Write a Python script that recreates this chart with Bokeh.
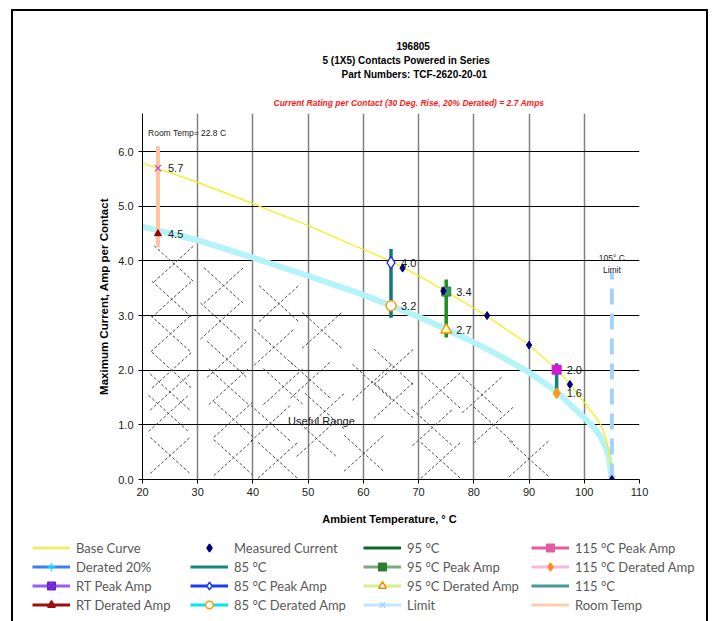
from bokeh.plotting import figure
from bokeh.layouts import column
from bokeh.models import (ColumnDataSource, Label, LabelSet, Legend, LegendItem,
                          Range1d, FixedTicker, NumeralTickFormatter, Title)
from bokeh.core.properties import value
from bokeh.embed import file_html
from bokeh.resources import INLINE

# ---------------- data ----------------
base_x = [20, 30, 40, 50, 57.6, 65, 70, 74.5, 80, 82.4, 85, 90, 95, 97.4, 100, 102, 103, 104, 104.5, 105]
base_y = [5.79, 5.44, 5.05, 4.65, 4.31, 4.0, 3.73, 3.47, 3.14, 2.99, 2.81, 2.46, 2.02, 1.74, 1.41, 1.15, 1.0, 0.72, 0.5, 0.0]

derated_x = [20, 30, 40, 50, 60, 65, 70, 75, 80, 85, 90, 95, 100, 102, 103, 104, 104.5, 105]
derated_y = [4.63, 4.38, 4.06, 3.73, 3.38, 3.18, 2.98, 2.75, 2.51, 2.25, 1.96, 1.61, 1.13, 0.92, 0.78, 0.56, 0.38, 0.0]

measured_x = [67.1, 74.5, 82.4, 90.0, 97.4, 105.0]
measured_y = [3.87, 3.45, 3.0, 2.46, 1.74, 0.0]

room_temp = [22.8]
rt_bar_low = [4.25]
rt_bar_high = [6.1]
rt_peak = [5.7]
rt_derated = [4.5]
rt_peak_label = ["5.7"]
rt_derated_label = ["4.5"]

temp_x = [65, 75, 95]
temp_bar_low = [2.96, 2.60, 1.51]
temp_bar_high = [4.22, 3.66, 2.13]
temp_peak = [3.97, 3.44, 2.01]
temp_derated = [3.18, 2.74, 1.58]
temp_peak_label = ["4.0", "3.4", "2.0"]
temp_derated_label = ["3.2", "2.7", "1.6"]

limit_x = [105]
limit_low = [0.0]
limit_high = [3.8]

x_ticks = [20, 30, 40, 50, 60, 70, 80, 90, 100, 110]
y_ticks = [0, 1, 2, 3, 4, 5, 6]

# centres of the dashed crosses that mark the useful range
hatch_cx = [25.7, 25.3, 25.1, 25.3, 25.0, 24.7, 25.0,
            34.7, 34.1, 35.3, 35.6, 36.5, 36.5,
            44.7, 43.8, 45.5, 43.2, 44.5,
            52.5, 50.4, 53.0, 51.5,
            61.6, 60.1, 65.5, 65.5,
            74.0, 72.5, 74.0,
            81.5, 83.6, 90.0]
hatch_cy = [3.95, 3.3, 2.67, 2.0, 1.6, 1.21, 0.44,
            3.55, 2.9, 2.2, 1.7, 1.1, 0.4,
            3.22, 2.42, 1.7, 1.03, 0.35,
            2.73, 1.82, 1.25, 0.75,
            1.78, 0.48, 2.06, 1.45,
            1.63, 0.95, 0.35,
            1.55, 1.0, 0.38]

FONT = "'Liberation Sans Narrow', 'Liberation Sans', Arial, sans-serif"

# ---------------- main figure ----------------
p = figure(width=693, height=519, output_backend="svg", toolbar_location=None,
           x_range=Range1d(20, 110), y_range=Range1d(0, 6.7),
           min_border_left=129, min_border_right=67, min_border_top=102, min_border_bottom=51)
p.outline_line_color = None
p.background_fill_color = "white"
p.border_fill_color = "white"

p.xaxis.ticker = FixedTicker(ticks=x_ticks)
p.yaxis.ticker = FixedTicker(ticks=y_ticks)
p.yaxis.formatter = NumeralTickFormatter(format="0.0")
for ax in (p.xaxis[0], p.yaxis[0]):
    ax.axis_line_color = "black"
    ax.axis_line_width = 1
    ax.major_tick_line_color = "black"
    ax.major_tick_out = 4
    ax.major_tick_in = 0
    ax.minor_tick_line_color = None
    ax.major_label_text_font = FONT
    ax.major_label_text_font_size = "11px"
    ax.major_label_text_color = "#1a1a1a"
    ax.axis_label_text_font = FONT
    ax.axis_label_text_font_style = "bold"
    ax.axis_label_text_color = "black"
p.xaxis.axis_label = "Ambient Temperature,  ° C"
p.yaxis.axis_label = "Maximum Current, Amp per Contact"
p.xaxis.axis_label_text_font_size = "11px"
p.yaxis.axis_label_text_font_size = "11.5px"
p.xaxis.major_label_standoff = 4
p.yaxis.major_label_standoff = 5
p.xaxis.axis_label_standoff = 14
p.yaxis.axis_label_standoff = 5

p.xgrid.grid_line_color = "#808080"
p.xgrid.grid_line_width = 1.5
p.ygrid.grid_line_color = "black"
p.ygrid.grid_line_width = 1

# titles (first added sits nearest to the plot area)
def add_title(text, size, standoff, offset, style="bold", color="black"):
    p.add_layout(Title(text=text, text_font=FONT, text_font_size=size, text_font_style=style,
                       text_color=color, align="left", offset=offset, standoff=standoff,
                       vertical_align="middle"), "above")

add_title("Current Rating per Contact (30 Deg. Rise, 20%  Derated)  =  2.7  Amps", "8.5px", 10, 131,
          style="bold italic", color="#ff1a1a")
add_title(" ", "1px", 8, 0)
add_title("Part Numbers: TCF-2620-20-01", "10px", 0, 199)
add_title("5 (1X5) Contacts Powered in Series", "10px", 2, 180)
add_title("196805", "10px", 4, 254)

# hatch of the useful range
hw, hh = 3.6, 0.33
hx0 = [c - hw for c in hatch_cx] * 2
hx1 = [c + hw for c in hatch_cx] * 2
hy0 = [c - hh for c in hatch_cy] + [c + hh for c in hatch_cy]
hy1 = [c + hh for c in hatch_cy] + [c - hh for c in hatch_cy]
p.segment(x0=hx0, y0=hy0, x1=hx1, y1=hy1, line_color="#4d4d4d", line_width=1, line_dash="3 2")

# curves
p.line(derated_x, derated_y, line_color="#b4f3f8", line_width=6)
p.line(base_x, base_y, line_color="#f2f200", line_width=1.2)

# limit
p.segment(x0=limit_x, y0=limit_low, x1=limit_x, y1=limit_high, line_color="#a7d1f7",
          line_width=4, line_dash="16 9")
p.scatter(limit_x, limit_low, marker="x", size=10, line_color="#a7d1f7", line_width=1.5)

# room temp
p.segment(x0=room_temp, y0=rt_bar_low, x1=room_temp, y1=rt_bar_high, line_color="#ffc4a0", line_width=4)
p.scatter(room_temp, rt_peak, marker="x", size=9, line_color="#c040c0", line_width=1.2)
p.scatter(room_temp, rt_derated, marker="triangle", size=7, fill_color="#8b0000", line_color="#8b0000")

# temperature bars
bar_colors = ["#0f7b78", "#1f8f1f", "#138080"]
p.segment(x0=temp_x, y0=temp_bar_low, x1=temp_x, y1=temp_bar_high, line_color=bar_colors, line_width=3.5)
p.scatter(temp_x[0:1], temp_peak[0:1], marker="diamond", size=12, fill_color="white", line_color="#2424ff", line_width=1.3)
p.scatter(temp_x[0:1], temp_derated[0:1], marker="circle", size=10, fill_color="white", line_color="#ff9a1a", line_width=1.5)
p.scatter(temp_x[1:2], temp_peak[1:2], marker="square", size=9, fill_color="#3a9a5a", line_color="#2e7d45")
p.scatter(temp_x[1:2], temp_derated[1:2], marker="triangle", size=11, fill_color="#ffffb0", line_color="#ff8c00", line_width=1.3)
p.scatter(temp_x[2:3], temp_peak[2:3], marker="square", size=9, fill_color="#d21ad2", line_color="#d21ad2")
p.scatter(temp_x[2:3], temp_derated[2:3], marker="diamond", size=11, fill_color="#ff9a1a", line_color="#ff9a1a")

# measured
p.scatter(measured_x, measured_y, marker="diamond", size=8, fill_color="#000080", line_color="#000080")

# value labels
lab_src = ColumnDataSource(dict(
    x=room_temp * 2 + temp_x * 2,
    y=rt_peak + rt_derated + temp_peak + temp_derated,
    t=rt_peak_label + rt_derated_label + temp_peak_label + temp_derated_label))
p.add_layout(LabelSet(x="x", y="y", text="t", source=lab_src, x_offset=10,
                      text_baseline="middle", text_align="left",
                      text_font=value(FONT), text_font_size="11px", text_color="#1a1a1a"))

def add_label(x, y, text, size="11px", color="black", align="center"):
    p.add_layout(Label(x=x, y=y, text=text, text_font=FONT, text_font_size=size,
                       text_color=color, text_align=align, text_baseline="middle"))

add_label(21.0, 6.35, "Room Temp=  22.8 C", size="8.5px", align="left", color="#222222")
add_label(105.0, 4.05, "105° C", size="8.5px", color="#222222")
add_label(105.0, 3.84, "Limit", size="8.5px", color="#222222")
add_label(52.4, 1.07, "Useful Range", size="11px", color="#1a1a1a")

# ---------------- legend strip ----------------
pl = figure(width=693, height=91, output_backend="svg", toolbar_location=None,
            x_range=Range1d(0, 1), y_range=Range1d(0, 1),
            x_axis_type=None, y_axis_type=None,
            min_border_left=0, min_border_right=0, min_border_top=0, min_border_bottom=0)
pl.outline_line_color = None
pl.background_fill_color = "white"
pl.border_fill_color = "white"

# keep the strip's frame independent of the main plot's frame
for fig in (p, pl):
    if "frame_align" in fig.properties():
        fig.frame_align = False

off = [-5.0]  # legend sample glyphs sit outside the visible range

def item(label, line=None, marker=None, fill=None, mline=None, lw=3):
    rs = []
    if line:
        rs.append(pl.line(off, off, line_color=line, line_width=lw))
    if marker:
        rs.append(pl.scatter(off, off, marker=marker, fill_color=fill, line_color=mline, line_width=1.5))
    return LegendItem(label=label, renderers=rs)

cols = [
    [item("Base Curve", "#eded70"),
     item("Derated 20%", "#3d7dff", "cross", None, "#00e0ff"),
     item("RT Peak Amp", "#9a5cf2", "square_x", "#8a40f0", "#6a20d0"),
     item("RT Derated Amp", "#a00c0c", "triangle", "#a00c0c", "#a00c0c")],
    [item("Measured Current", None, "diamond", "#000080", "#000080"),
     item("85 °C", "#0f8a80"),
     item("85 °C Peak Amp", "#1a3cf0", "diamond", "white", "#1a3cf0"),
     item("85 °C Derated Amp", "#00e6f2", "circle", "white", "#ff9a00")],
    [item("95 °C", "#13662a"),
     item("95 °C Peak Amp", "#7aaa80", "square", "#2e7d32", "#2e7d32"),
     item("95 °C Derated Amp", "#d6f08a", "triangle", "white", "#f08c00"),
     item("Limit", "#c4e4ff", "x", None, "#a8d4ff")],
    [item("115 °C Peak Amp", "#e65aa0", "square", "#e65aa0", "#e65aa0"),
     item("115 °C Derated Amp", "#f7b8dd", "diamond", "#ff8c1a", "#ff8c1a"),
     item("115 °C", "#4a9898"),
     item("Room Temp", "#f8d0b0")],
]
col_left = [32, 190, 363, 531]
strip_left, strip_top, strip_h = 13, 530, 91
for its, left in zip(cols, col_left):
    lg = Legend(items=its, location=(left - strip_left, strip_h - (538 - strip_top) - 76),
                border_line_color=None, background_fill_alpha=0, padding=0, margin=0,
                spacing=0, glyph_width=38, glyph_height=19, label_height=19,
                label_standoff=6, label_text_font="Lato", label_text_font_size="13px",
                label_text_color="#595959")
    pl.add_layout(lg, "center")

layout = column(p, pl, spacing=0,
                styles={"border-left": "2px solid #000", "border-right": "2px solid #000",
                        "border-top": "2px solid #000", "margin-left": "11px", "margin-top": "9px"})

open("out.html", "w").write(file_html(layout, INLINE))
